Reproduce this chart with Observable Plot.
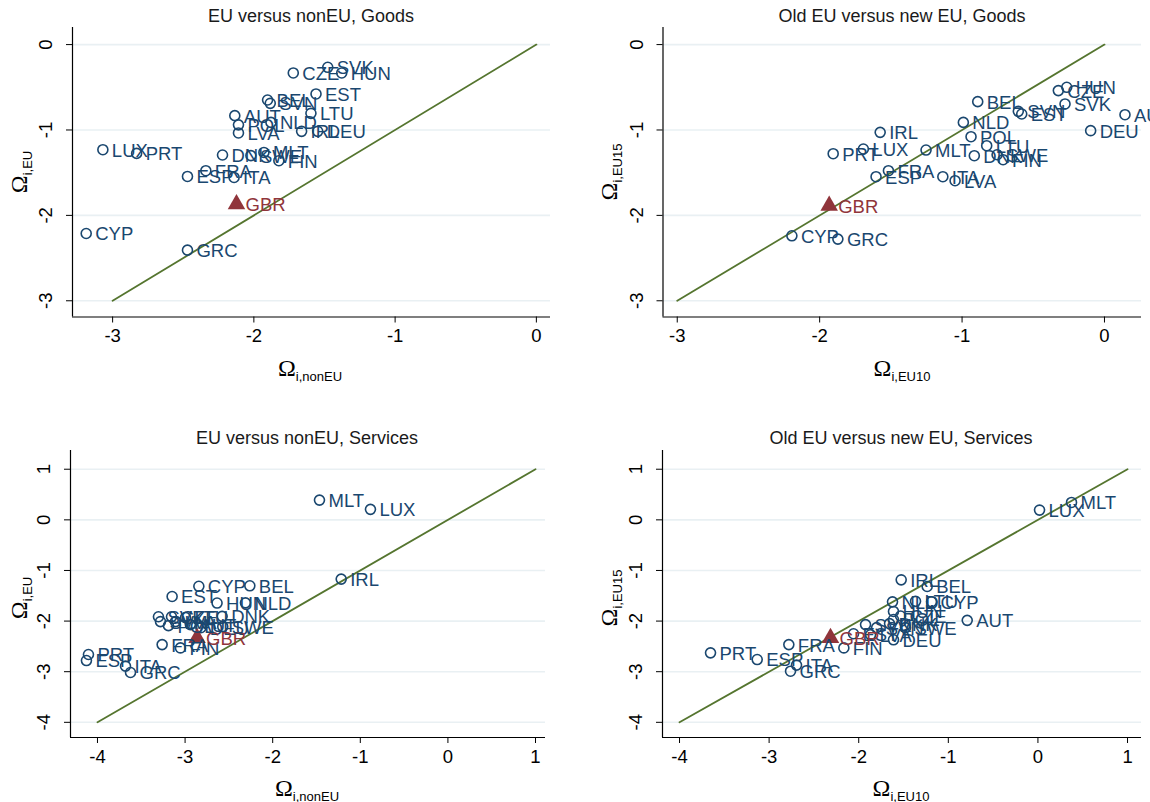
<!DOCTYPE html>
<html>
<head>
<meta charset="utf-8">
<script src="https://cdn.jsdelivr.net/npm/d3@7"></script>
<script src="https://cdn.jsdelivr.net/npm/@observablehq/plot@0.6"></script>
<style>
  html, body { margin: 0; padding: 0; background: #fff; }
  #chart { position: relative; width: 1150px; height: 802px; overflow: hidden; font-family: "Liberation Sans", Arial, sans-serif; }
  #chart svg { position: absolute; }
  .ptitle { position: absolute; transform: translate(-50%, -50%); font-size: 18px; color: #1a1a1a; white-space: nowrap; }
  .axt { position: absolute; white-space: nowrap; color: #000; line-height: 1; }
  .axt .om { font-family: "Liberation Serif", "DejaVu Serif", serif; font-size: 24px; }
  .axt sub { font-family: "Liberation Sans", Arial, sans-serif; font-size: 13px; vertical-align: -5px; }
  .axx { transform: translate(-50%, -50%); }
  .axy { transform: translate(-50%, -50%) rotate(-90deg); }
</style>
</head>
<body>
<div id="chart"></div>
<script>
// Countries (same order for all value arrays)
const countries = ["AUT","BEL","CYP","CZE","DEU","DNK","ESP","EST","FIN","FRA","GBR","GRC","HUN","IRL","ITA","LTU","LUX","LVA","MLT","NLD","POL","PRT","SVK","SVN","SWE"];

// Goods: EU versus nonEU
const goodsNonEU = [-2.135,-1.903,-3.187,-1.721,-1.548,-2.222,-2.470,-1.560,-1.823,-2.340,-2.123,-2.470,-1.378,-1.662,-2.140,-1.596,-3.069,-2.109,-1.929,-1.879,-2.109,-2.830,-1.477,-1.884,-2.021];
const goodsEU    = [-0.832,-0.649,-2.212,-0.332,-1.016,-1.293,-1.544,-0.578,-1.360,-1.477,-1.868,-2.407,-0.332,-1.016,-1.556,-0.805,-1.231,-1.035,-1.263,-0.911,-0.940,-1.274,-0.266,-0.688,-1.300];

// Goods: old EU versus new EU
const goodsEU10  = [0.144,-0.890,-2.195,-0.324,-0.097,-0.914,-1.604,-0.581,-0.712,-1.517,-1.933,-1.872,-0.265,-1.575,-1.135,-0.827,-1.693,-1.049,-1.253,-0.991,-0.937,-1.905,-0.277,-0.605,-0.754];
const goodsEU15  = [-0.821,-0.668,-2.239,-0.539,-1.008,-1.301,-1.547,-0.813,-1.348,-1.477,-1.887,-2.278,-0.500,-1.028,-1.547,-1.184,-1.223,-1.594,-1.235,-0.911,-1.079,-1.278,-0.695,-0.782,-1.290];

// Services: EU versus nonEU
const servNonEU  = [-2.940,-2.261,-2.843,-3.155,-2.820,-2.577,-4.126,-3.148,-3.053,-3.262,-2.863,-3.623,-2.635,-1.218,-3.680,-2.995,-0.884,-3.110,-1.466,-2.311,-3.190,-4.103,-3.304,-3.281,-2.570];
const servEU     = [-2.070,-1.303,-1.313,-1.914,-2.130,-1.907,-2.780,-1.514,-2.530,-2.465,-2.333,-3.016,-1.644,-1.171,-2.890,-1.930,0.207,-2.010,0.390,-1.640,-2.090,-2.660,-1.914,-2.010,-2.110];

// Services: old EU versus new EU
const servEU10   = [-0.789,-1.236,-1.187,-1.533,-1.612,-1.656,-3.133,-2.058,-2.166,-2.780,-2.315,-2.761,-1.612,-1.526,-2.694,-1.366,0.018,-1.868,0.375,-1.623,-1.612,-3.654,-1.924,-1.800,-1.478];
const servEU15   = [-1.986,-1.317,-1.617,-1.900,-2.370,-2.050,-2.760,-2.250,-2.530,-2.465,-2.333,-2.990,-1.810,-1.185,-2.870,-1.610,0.193,-2.270,0.344,-1.620,-1.970,-2.628,-2.070,-2.130,-2.130];

const ticksGoods = [-3, -2, -1, 0];
const ticksServ = [-4, -3, -2, -1, 0, 1];
const diagGoods = [-3, 0];
const diagServ = [-4, 1];
const highlight = "GBR";

const titles = ["EU versus nonEU, Goods", "Old EU versus new EU, Goods", "EU versus nonEU, Services", "Old EU versus new EU, Services"];

const NAVY = "#1a476f", MAROON = "#90353b", GREEN = "#55752f", GRID = "#e9f0f3";
const FONT = "Liberation Sans, Arial, sans-serif";

function panel({xs, ys, xDomain, yDomain, ticks, diag, mL, mR, mT, mB}) {
  const data = countries.map((c, i) => ({c, x: xs[i], y: ys[i]}));
  const others = data.filter(d => d.c !== highlight);
  const hi = data.filter(d => d.c === highlight);
  return Plot.plot({
    width: 575, height: 401,
    marginLeft: mL, marginRight: mR, marginTop: mT, marginBottom: mB,
    x: {domain: xDomain},
    y: {domain: yDomain},
    style: {background: "transparent", fontFamily: FONT, color: "#000", overflow: "visible"},
    marks: [
      Plot.ruleY(ticks.filter(t => t >= yDomain[0] && t <= yDomain[1]), {stroke: GRID, strokeWidth: 1.6}),
      Plot.line(diag, {x: d => d, y: d => d, stroke: GREEN, strokeWidth: 1.8}),
      Plot.dot(others, {x: "x", y: "y", r: 5, stroke: NAVY, strokeWidth: 1.6, fill: "none"}),
      Plot.dot(hi, {x: "x", y: "y", r: 6.5, symbol: "triangle", fill: MAROON, stroke: "none"}),
      Plot.text(data, {x: "x", y: "y", text: "c", dx: 9, dy: 1, textAnchor: "start", fontSize: 18.5,
        fill: d => d.c === highlight ? MAROON : NAVY}),
      Plot.ruleX([xDomain[0]], {stroke: "#000", strokeWidth: 1.2}),
      Plot.ruleY([yDomain[0]], {stroke: "#000", strokeWidth: 1.2}),
      Plot.axisX(ticks.filter(t => t >= xDomain[0] && t <= xDomain[1]), {anchor: "bottom", tickSize: 6, tickPadding: 6, fontSize: 18.5, tickFormat: d => String(d), label: null}),
      Plot.axisY(ticks, {anchor: "left", tickSize: 6, tickFormat: () => "", label: null}),
      Plot.text(ticks, {y: d => d, frameAnchor: "left", dx: -26, rotate: -90, text: d => String(d), fontSize: 18.5, textAnchor: "middle", fill: "#000"})
    ]
  });
}

const chart = document.getElementById("chart");

const specs = [
  {xs: goodsNonEU, ys: goodsEU, xDomain: [-3.284, 0.1], yDomain: [-3.19, 0.2], ticks: ticksGoods, diag: diagGoods,
   mL: 72, mR: 25, mT: 27, mB: 84.5, left: 0, top: 0},
  {xs: goodsEU10, ys: goodsEU15, xDomain: [-3.1, 0.26], yDomain: [-3.19, 0.2], ticks: ticksGoods, diag: diagGoods,
   mL: 87.5, mR: 9, mT: 27, mB: 84.5, left: 575, top: 0},
  {xs: servNonEU, ys: servEU, xDomain: [-4.308, 1.114], yDomain: [-4.3, 1.37], ticks: ticksServ, diag: diagServ,
   mL: 70, mR: 30, mT: 49, mB: 65, left: 0, top: 401},
  {xs: servEU10, ys: servEU15, xDomain: [-4.19, 1.156], yDomain: [-4.3, 1.37], ticks: ticksServ, diag: diagServ,
   mL: 87, mR: 9, mT: 49, mB: 65, left: 575, top: 401}
];

specs.forEach(s => {
  const svg = panel(s);
  svg.style.left = s.left + "px";
  svg.style.top = s.top + "px";
  chart.appendChild(svg);
});

function addTitle(text, x, y) {
  const d = document.createElement("div");
  d.className = "ptitle";
  d.textContent = text;
  d.style.left = x + "px"; d.style.top = y + "px";
  chart.appendChild(d);
}
function addAxisTitle(sub, x, y, vertical) {
  const d = document.createElement("div");
  d.className = "axt " + (vertical ? "axy" : "axx");
  const om = document.createElement("span");
  om.className = "om"; om.textContent = "Ω";
  const s = document.createElement("sub");
  s.textContent = sub;
  d.appendChild(om); d.appendChild(s);
  d.style.left = x + "px"; d.style.top = y + "px";
  chart.appendChild(d);
}

addTitle(titles[0], 311, 16);
addTitle(titles[1], 902, 16);
addTitle(titles[2], 307, 438);
addTitle(titles[3], 901, 438);

addAxisTitle("i,nonEU", 310, 369, false);
addAxisTitle("i,EU10", 902, 369, false);
addAxisTitle("i,nonEU", 307, 789, false);
addAxisTitle("i,EU10", 901, 789, false);

addAxisTitle("i,EU", 20, 172, true);
addAxisTitle("i,EU15", 610, 172, true);
addAxisTitle("i,EU", 20, 598, true);
addAxisTitle("i,EU15", 610, 598, true);
</script>
</body>
</html>
